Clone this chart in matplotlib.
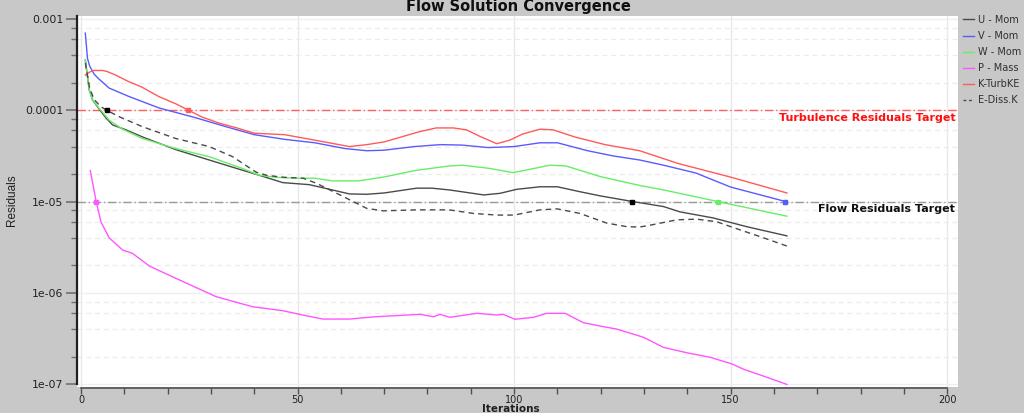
import numpy as np
import matplotlib
matplotlib.use('Agg')
import matplotlib.pyplot as plt
from matplotlib.ticker import FixedLocator, FixedFormatter, NullFormatter, MultipleLocator
import matplotlib.transforms as mtransforms
from matplotlib.lines import Line2D

# ---------------- data ----------------
u_iter = [1, 1.9, 2.7, 4.2, 5.8, 7.3, 10.4, 14.2, 21.9, 29.6, 37.3, 41, 46.6, 52.7, 58, 62, 66, 70,
          77.5, 81, 85, 93, 96.8, 100.6, 106, 110, 115.2, 120, 127.6, 134.5, 138.3, 146, 153.7, 163]
u_res = [3.55e-4, 1.67e-4, 1.29e-4, 1.03e-4, 8.2e-5, 6.9e-5, 6.1e-5, 5.1e-5, 3.7e-5, 2.85e-5, 2.2e-5,
         1.95e-5, 1.61e-5, 1.53e-5, 1.34e-5, 1.21e-5, 1.2e-5, 1.24e-5, 1.40e-5, 1.40e-5, 1.34e-5,
         1.18e-5, 1.23e-5, 1.36e-5, 1.45e-5, 1.45e-5, 1.28e-5, 1.15e-5, 9.95e-6, 8.8e-6, 7.7e-6,
         6.6e-6, 5.3e-6, 4.2e-6]

v_iter = [1, 1.5, 2, 3, 4, 6.5, 11, 18, 26, 33.5, 40, 47, 54, 61, 66, 70, 77, 83, 88, 94, 100, 106,
          110, 117, 123, 129, 134.5, 142, 150, 163]
v_res = [7.0e-4, 3.7e-4, 3.05e-4, 2.5e-4, 2.23e-4, 1.75e-4, 1.42e-4, 1.06e-4, 8.4e-5, 6.6e-5, 5.4e-5,
         4.8e-5, 4.4e-5, 3.8e-5, 3.6e-5, 3.65e-5, 4.0e-5, 4.2e-5, 4.15e-5, 3.9e-5, 4.0e-5, 4.4e-5,
         4.4e-5, 3.6e-5, 3.15e-5, 2.85e-5, 2.5e-5, 2.05e-5, 1.44e-5, 9.9e-6]

w_iter = [1, 1.9, 2.7, 4.2, 6.5, 9.6, 14.2, 21.9, 29.6, 37.3, 41, 45, 50, 54, 58, 64, 69.8, 77.5, 85,
          88, 94.5, 99.8, 104, 108.3, 112, 120, 129, 134.5, 147, 163]
w_res = [3.55e-4, 1.67e-4, 1.29e-4, 1.05e-4, 7.8e-5, 6.2e-5, 4.9e-5, 3.8e-5, 3.1e-5, 2.3e-5, 1.95e-5,
         1.84e-5, 1.8e-5, 1.8e-5, 1.68e-5, 1.68e-5, 1.85e-5, 2.2e-5, 2.45e-5, 2.5e-5, 2.3e-5, 2.07e-5,
         2.27e-5, 2.5e-5, 2.45e-5, 1.87e-5, 1.5e-5, 1.34e-5, 1.0e-5, 6.9e-6]

p_iter = [2.15, 3.5, 4.6, 6.5, 9.6, 11.9, 15.8, 21.9, 31.2, 39.6, 46.6, 51.2, 55.8, 62, 68, 78.3, 81.4,
          82.9, 85.2, 91.4, 96, 97.5, 100.2, 104.5, 107.5, 111.8, 116, 120.6, 123.7, 129.9, 134.5,
          139.9, 145.3, 150.3, 153, 157.6, 163]
p_res = [2.18e-5, 1.0e-5, 6.0e-6, 4.0e-6, 2.94e-6, 2.7e-6, 1.96e-6, 1.44e-6, 9.06e-7, 7.03e-7, 6.36e-7,
         5.7e-7, 5.15e-7, 5.15e-7, 5.46e-7, 5.8e-7, 5.46e-7, 5.8e-7, 5.38e-7, 5.95e-7, 5.7e-7, 5.8e-7,
         5.12e-7, 5.38e-7, 5.95e-7, 5.95e-7, 4.7e-7, 4.25e-7, 4.0e-7, 3.25e-7, 2.52e-7, 2.2e-7,
         1.96e-7, 1.66e-7, 1.45e-7, 1.22e-7, 9.9e-8]

k_iter = [1, 2, 3, 5, 6, 8, 11, 14, 18, 22, 25, 28, 32, 36, 40, 47, 54, 62, 66, 70, 74, 78, 82, 86, 89,
          92, 96, 99, 102, 106, 109, 114, 121, 129, 138, 150, 163]
k_res = [2.43e-4, 2.62e-4, 2.73e-4, 2.73e-4, 2.66e-4, 2.43e-4, 2.06e-4, 1.80e-4, 1.41e-4, 1.17e-4,
         9.9e-5, 8.4e-5, 7.2e-5, 6.4e-5, 5.6e-5, 5.4e-5, 4.7e-5, 4.0e-5, 4.2e-5, 4.5e-5, 5.1e-5,
         5.8e-5, 6.4e-5, 6.4e-5, 6.1e-5, 5.2e-5, 4.3e-5, 4.7e-5, 5.5e-5, 6.2e-5, 6.1e-5, 5.1e-5,
         4.2e-5, 3.6e-5, 2.6e-5, 1.85e-5, 1.24e-5]

e_iter = [1, 2, 3, 4.5, 6.1, 8.8, 14.2, 21.9, 29.6, 35, 40.4, 43, 47, 51.3, 54.4, 60.6, 66, 69.8, 77.5,
          85, 90.6, 96, 100, 106, 110, 115.2, 121.4, 126, 129, 131.4, 137.6, 142.2, 146.8, 150,
          157.6, 163]
e_res = [3.3e-4, 1.75e-4, 1.32e-4, 1.1e-4, 9.9e-5, 8.5e-5, 6.6e-5, 4.9e-5, 4.0e-5, 3.1e-5, 2.1e-5,
         1.93e-5, 1.84e-5, 1.8e-5, 1.58e-5, 1.13e-5, 8.4e-6, 7.9e-6, 8.1e-6, 8.1e-6, 7.4e-6, 7.1e-6,
         7.1e-6, 8.1e-6, 8.3e-6, 7.4e-6, 5.8e-6, 5.3e-6, 5.25e-6, 5.5e-6, 6.3e-6, 6.4e-6, 6.0e-6,
         5.3e-6, 4.0e-6, 3.25e-6]

series_labels = ['U - Mom', 'V - Mom', 'W - Mom', 'P - Mass', 'K-TurbKE', 'E-Diss.K']
flow_target = 1e-5
turb_target = 1e-4
y_ticks = [1e-7, 1e-6, 1e-5, 1e-4, 1e-3]
y_tick_labels = ['1e-07', '1e-06', '1e-05', '0.0001', '0.001']
x_ticks = [0, 50, 100, 150, 200]

# ---------------- style ----------------
colors = ['#4a4a4a', '#5a5aff', '#66ee66', '#ff55ff', '#ff5a5a', '#4a4a4a']
styles = ['-', '-', '-', '-', '-', (0, (4, 3))]
targets = [flow_target, flow_target, flow_target, flow_target, turb_target, turb_target]
data = [(u_iter, u_res), (v_iter, v_res), (w_iter, w_res), (p_iter, p_res), (k_iter, k_res), (e_iter, e_res)]


def first_cross(x, y, target):
    x = np.asarray(x, float)
    ly = np.log10(np.asarray(y, float))
    lt = np.log10(target)
    for i in range(1, len(x)):
        if ly[i - 1] >= lt >= ly[i]:
            t = (ly[i - 1] - lt) / (ly[i - 1] - ly[i]) if ly[i - 1] != ly[i] else 0
            return x[i - 1] + t * (x[i] - x[i - 1])
    return None


fig = plt.figure(figsize=(10.24, 4.13), dpi=100, facecolor='#c8c8c8')
W, H = 1024, 413
ax = fig.add_axes([77 / W, 1 - 387 / H, (958 - 77) / W, (387 - 16) / H])
ax.set_facecolor('white')
ax.set_yscale('log')
ax.set_ylim(1e-7 * 10 ** (-3 / 91.25), 1e-3 * 10 ** (3 / 91.25))
ax.set_xlim(-0.92, 202.5)

# grid
minor_y = [m * 10.0 ** e for e in range(-7, -3) for m in (2, 4, 6, 8)]
ax.yaxis.set_major_locator(FixedLocator(y_ticks))
ax.yaxis.set_major_formatter(FixedFormatter(y_tick_labels))
ax.yaxis.set_minor_locator(FixedLocator(minor_y))
ax.yaxis.set_minor_formatter(NullFormatter())
ax.xaxis.set_major_locator(FixedLocator(x_ticks))
ax.xaxis.set_minor_locator(MultipleLocator(10))
ax.grid(which='major', axis='y', color='#efefef', lw=0.9, ls='-')
ax.grid(which='minor', axis='y', color='#ececec', lw=0.9, ls=(0, (4, 3)))
ax.grid(which='major', axis='x', color='#e8e8e8', lw=1.0, ls='-')
ax.set_axisbelow(True)

# target lines
ax.axhline(turb_target, color='#ff6060', lw=1.0, ls=(0, (6, 2, 1, 2)), zorder=2)
ax.axhline(flow_target, color='#9a9a9a', lw=1.0, ls=(0, (6, 2, 1, 2)), zorder=2)
trans = mtransforms.blended_transform_factory(ax.transAxes, ax.transData)
ax.annotate('Turbulence Residuals Target', xy=(0.997, turb_target), xycoords=trans,
            xytext=(0, -2), textcoords='offset points', ha='right', va='top',
            color='#ff1010', fontsize=8, fontweight='bold')
ax.annotate('Flow Residuals Target', xy=(0.997, flow_target), xycoords=trans,
            xytext=(0, -2), textcoords='offset points', ha='right', va='top',
            color='#101010', fontsize=8, fontweight='bold')

handles = []
for (xs, ys), c, s, lab, tg in zip(data, colors, styles, series_labels, targets):
    ln, = ax.plot(xs, ys, color=c, ls=s, lw=1.0, zorder=3)
    xc = first_cross(xs, ys, tg)
    if xc is not None:
        mc = '#000000' if c == '#4a4a4a' else c
        ax.plot([xc], [tg], marker='s', ms=3.5, color=mc, mec=mc, zorder=4)
    handles.append(Line2D([], [], color=c, ls=s if s == '-' else (0, (2, 2)), lw=1.0))

# spines
for sp in ('top', 'right'):
    ax.spines[sp].set_visible(False)
ax.spines['left'].set_color('#202020')
ax.spines['left'].set_linewidth(1.6)
ax.spines['left'].set_bounds(1e-7, ax.get_ylim()[1])
ax.spines['bottom'].set_color('#505050')
ax.spines['bottom'].set_linewidth(1.2)
ax.spines['bottom'].set_bounds(0, 200)
ax.spines['bottom'].set_position(('outward', 1))

ax.tick_params(axis='y', which='major', length=8, width=1.2, color='#707070', labelsize=7.8, pad=2,
               labelcolor='#202020')
ax.tick_params(axis='y', which='minor', length=4, width=1.0, color='#707070')
ax.tick_params(axis='x', which='both', length=4, width=1.0, color='#505050', labelsize=7, pad=0.5,
               labelcolor='#202020')

fig.legend(handles, series_labels, loc='upper left', bbox_to_anchor=(959 / W, 1 - 11 / H),
           frameon=False, fontsize=7, handlelength=1.1, handletextpad=0.5, labelspacing=0.62,
           borderaxespad=0, labelcolor='#303030')

fig.text(518 / W, 1 - 7 / H, 'Flow Solution Convergence', ha='center', va='center',
         fontsize=10.5, fontweight='bold', color='#101010')
fig.text(511 / W, 1 - 408.5 / H, 'Iterations', ha='center', va='center', fontsize=7.5,
         fontweight='bold', color='#202020')
fig.text(12 / W, 1 - 200 / H, 'Residuals', ha='center', va='center', rotation=90, fontsize=8.5,
         family='Liberation Sans', color='#202020')

fig.savefig('out.png', dpi=100, facecolor=fig.get_facecolor())
